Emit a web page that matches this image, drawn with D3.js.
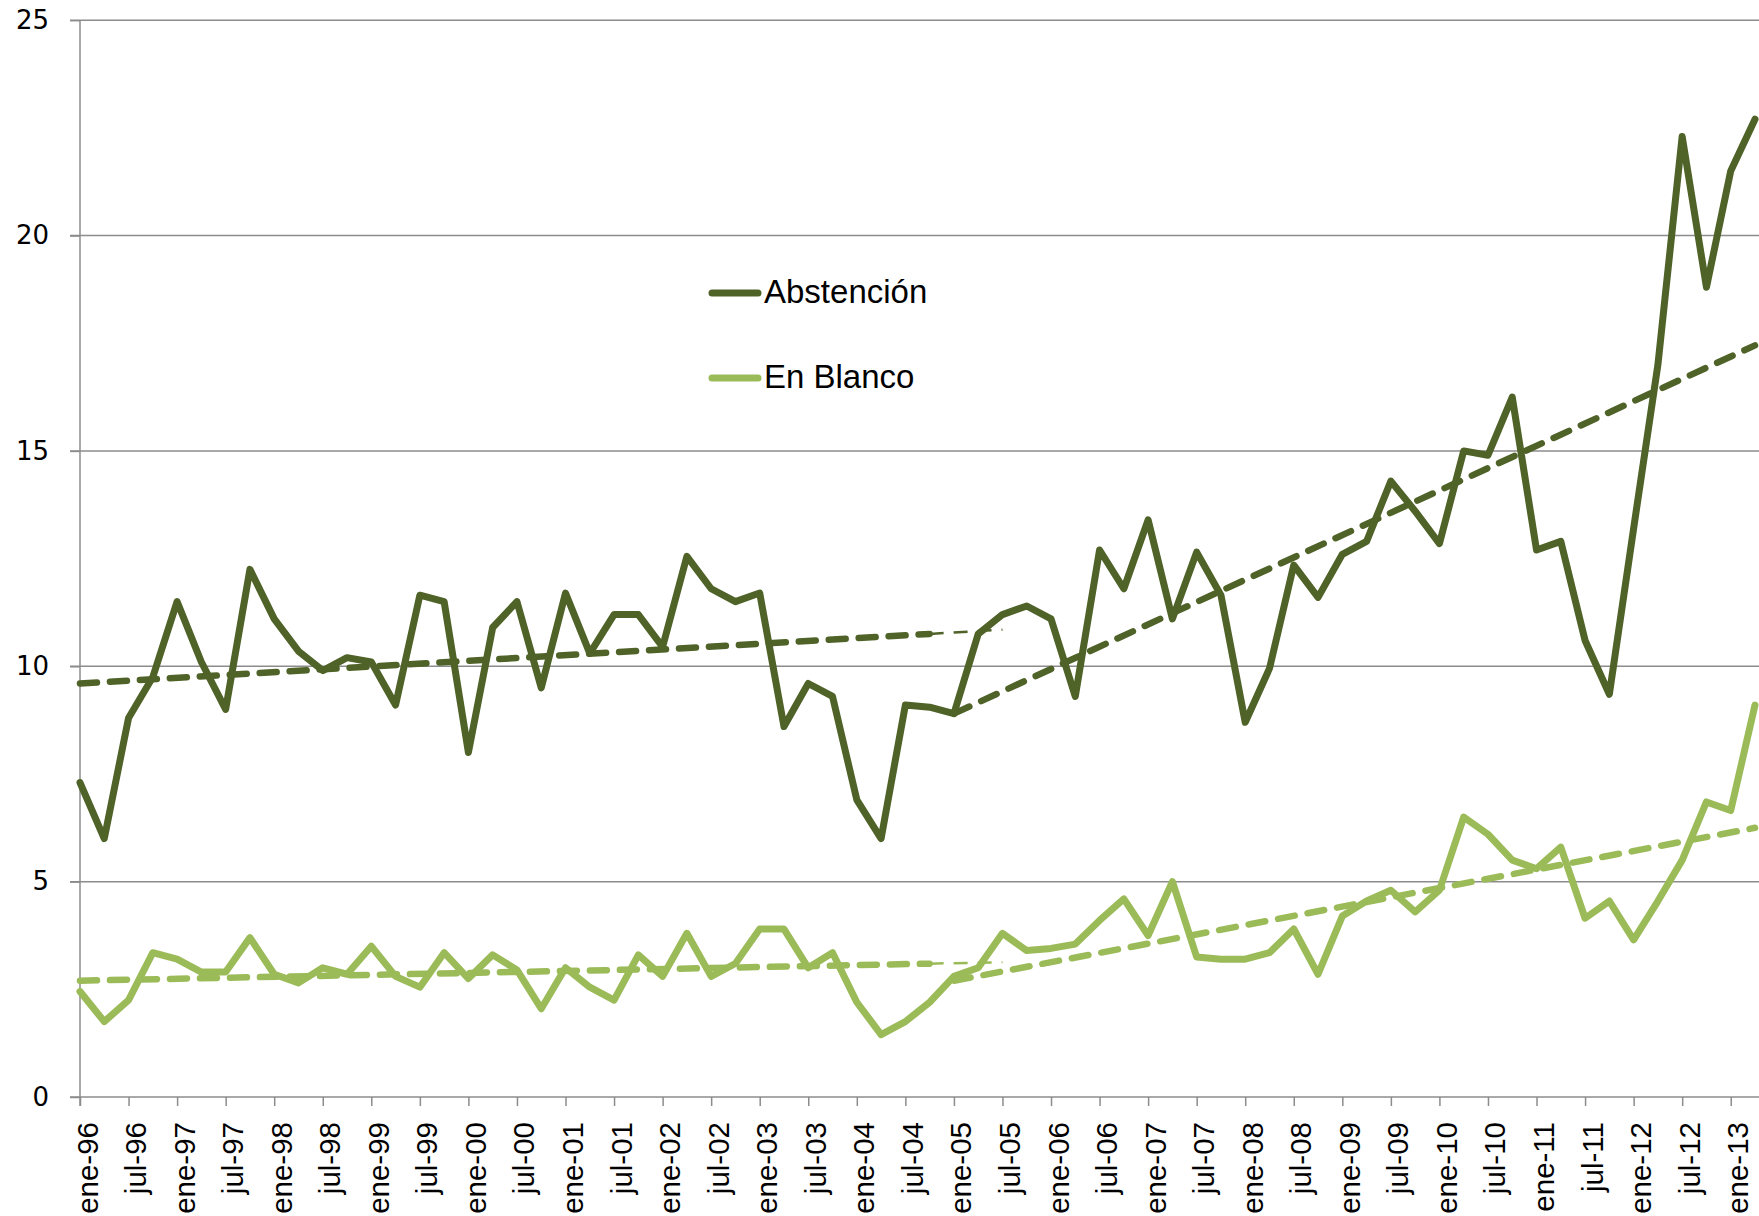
<!DOCTYPE html>
<html>
<head>
<meta charset="utf-8">
<script src="https://cdn.jsdelivr.net/npm/d3@7"></script>
<style>
  body { margin: 0; background: #fff; }
  svg { display: block; }
</style>
</head>
<body>
<div id="graph"></div>
<script>
// quarterly data, ene-96 .. abr-13
const years = ["96","97","98","99","00","01","02","03","04","05","06","07","08","09","10","11","12","13"];
const months = ["ene","abr","jul","oct"];
const categories = [];
years.forEach(yy => months.forEach(m => categories.push(m + "-" + yy)));
categories.splice(70); // last point is abr-13

const abstencion = [
  7.3, 6.0, 8.8, 9.75, 11.5, 10.1, 9.0, 12.25, 11.1, 10.35,
  9.9, 10.2, 10.1, 9.1, 11.65, 11.5, 8.0, 10.9, 11.5, 9.5,
  11.7, 10.3, 11.2, 11.2, 10.45, 12.55, 11.8, 11.5, 11.7, 8.6,
  9.6, 9.3, 6.9, 6.0, 9.1, 9.05, 8.9, 10.75, 11.2, 11.4,
  11.1, 9.3, 12.7, 11.8, 13.4, 11.1, 12.65, 11.65, 8.7, 9.95,
  12.35, 11.6, 12.6, 12.9, 14.3, 13.6, 12.85, 15.0, 14.9, 16.25,
  12.7, 12.9, 10.6, 9.35, 13.2, 17.0, 22.3, 18.8, 21.5, 22.7
];
const enBlanco = [
  2.45, 1.75, 2.25, 3.35, 3.2, 2.9, 2.9, 3.7, 2.85, 2.65,
  3.0, 2.85, 3.5, 2.8, 2.55, 3.35, 2.75, 3.3, 2.95, 2.05,
  3.0, 2.55, 2.25, 3.3, 2.8, 3.8, 2.8, 3.1, 3.9, 3.9,
  3.0, 3.35, 2.2, 1.45, 1.75, 2.2, 2.8, 3.0, 3.8, 3.4,
  3.45, 3.55, 4.1, 4.6, 3.75, 5.0, 3.25, 3.2, 3.2, 3.35,
  3.9, 2.85, 4.2, 4.55, 4.8, 4.3, 4.8, 6.5, 6.1, 5.5,
  5.3, 5.8, 4.15, 4.55, 3.65, 4.55, 5.5, 6.85, 6.65, 9.1
];

// dashed trend lines: [start index, end index] and values
const trendAbsA = { idx: [0, 38], val: [9.6, 10.85] };
const trendAbsB = { idx: [36, 69], val: [8.9, 17.45] };
const trendBlaA = { idx: [0, 38], val: [2.7, 3.13] };
const trendBlaB = { idx: [36, 69], val: [2.7, 6.25] };

const yTicks = [0, 5, 10, 15, 20, 25];

const colAbs = "#4f6228", colBla = "#9bbb59";

const W = 1759, H = 1216;
const svg = d3.select("#graph").append("svg")
  .attr("width", W).attr("height", H);

const x = d3.scalePoint()
  .domain(categories)
  .range([80, 1755]);
const y = d3.scaleLinear()
  .domain([0, 25])
  .range([1097, 20.2]);

// gridlines
svg.append("g")
  .selectAll("line")
  .data(yTicks.filter(d => d > 0))
  .join("line")
    .attr("x1", 70).attr("x2", W)
    .attr("y1", d => y(d)).attr("y2", d => y(d))
    .attr("stroke", "#8c8c8c").attr("stroke-width", 1.5);

// y axis
const yAxis = svg.append("g")
  .attr("transform", "translate(80,0)")
  .call(d3.axisLeft(y).tickValues(yTicks).tickSize(10).tickPadding(21));
yAxis.select(".domain").attr("stroke", "#8c8c8c").attr("stroke-width", 1.5)
  .attr("d", `M0,${y(25)}V${y(0) + 9}`);
yAxis.selectAll(".tick line").attr("stroke", "#8c8c8c").attr("stroke-width", 1.5);
yAxis.selectAll("text")
  .attr("font-family", "DejaVu Sans").attr("font-size", 26).attr("fill", "#000");

// x axis
const xAxis = svg.append("g")
  .attr("transform", `translate(0,${y(0)})`)
  .call(d3.axisBottom(x).tickValues(categories.filter((d, i) => i % 2 === 0)).tickSize(9));
xAxis.select(".domain").attr("stroke", "#8c8c8c").attr("stroke-width", 1.5)
  .attr("d", `M70,0H${W}`);
xAxis.selectAll(".tick line").attr("stroke", "#8c8c8c").attr("stroke-width", 1.5);
xAxis.selectAll("text")
  .attr("x", 0).attr("y", 0).attr("dy", 0)
  .attr("text-anchor", "end")
  .attr("transform", "translate(17,25) rotate(-90)")
  .attr("font-family", "Liberation Sans").attr("font-size", 29.5).attr("fill", "#000");

// trend lines
const trendAt = (t, i) => t.val[0] + (t.val[1] - t.val[0]) * (i - t.idx[0]) / (t.idx[1] - t.idx[0]);
function trend(t, color, i0, i1, width) {
  svg.append("line")
    .attr("x1", x(categories[i0])).attr("y1", y(trendAt(t, i0)))
    .attr("x2", x(categories[i1])).attr("y2", y(trendAt(t, i1)))
    .attr("stroke", color).attr("stroke-width", width)
    .attr("stroke-dasharray", width > 3 ? "17,13" : "14,10")
    .attr("stroke-linecap", width > 3 ? "round" : "butt");
}
// the early trends fade out into a thin stroke near ene-05
trend(trendAbsA, colAbs, 0, 35, 6.5);
trend(trendAbsA, colAbs, 35, 38, 2.5);
trend(trendBlaA, colBla, 0, 35, 6.5);
trend(trendBlaA, colBla, 35, 38, 2.5);
trend(trendAbsB, colAbs, 36, 69, 6.5);
trend(trendBlaB, colBla, 36, 69, 6.5);

// data lines
const line = d3.line()
  .x((d, i) => x(categories[i]))
  .y(d => y(d));

[[enBlanco, colBla], [abstencion, colAbs]].forEach(([data, color]) => {
  svg.append("path")
    .datum(data)
    .attr("d", line)
    .attr("fill", "none")
    .attr("stroke", color)
    .attr("stroke-width", 7)
    .attr("stroke-linejoin", "round")
    .attr("stroke-linecap", "round");
});

// legend
const legend = [["Abstención", colAbs, 293], ["En Blanco", colBla, 378]];
legend.forEach(([name, color, ly]) => {
  svg.append("line")
    .attr("x1", 712).attr("x2", 758).attr("y1", ly).attr("y2", ly)
    .attr("stroke", color).attr("stroke-width", 7).attr("stroke-linecap", "round");
  svg.append("text")
    .attr("x", 764).attr("y", ly + 10)
    .attr("font-family", "Liberation Sans").attr("font-size", 33)
    .attr("fill", "#000")
    .text(name);
});
</script>
</body>
</html>
